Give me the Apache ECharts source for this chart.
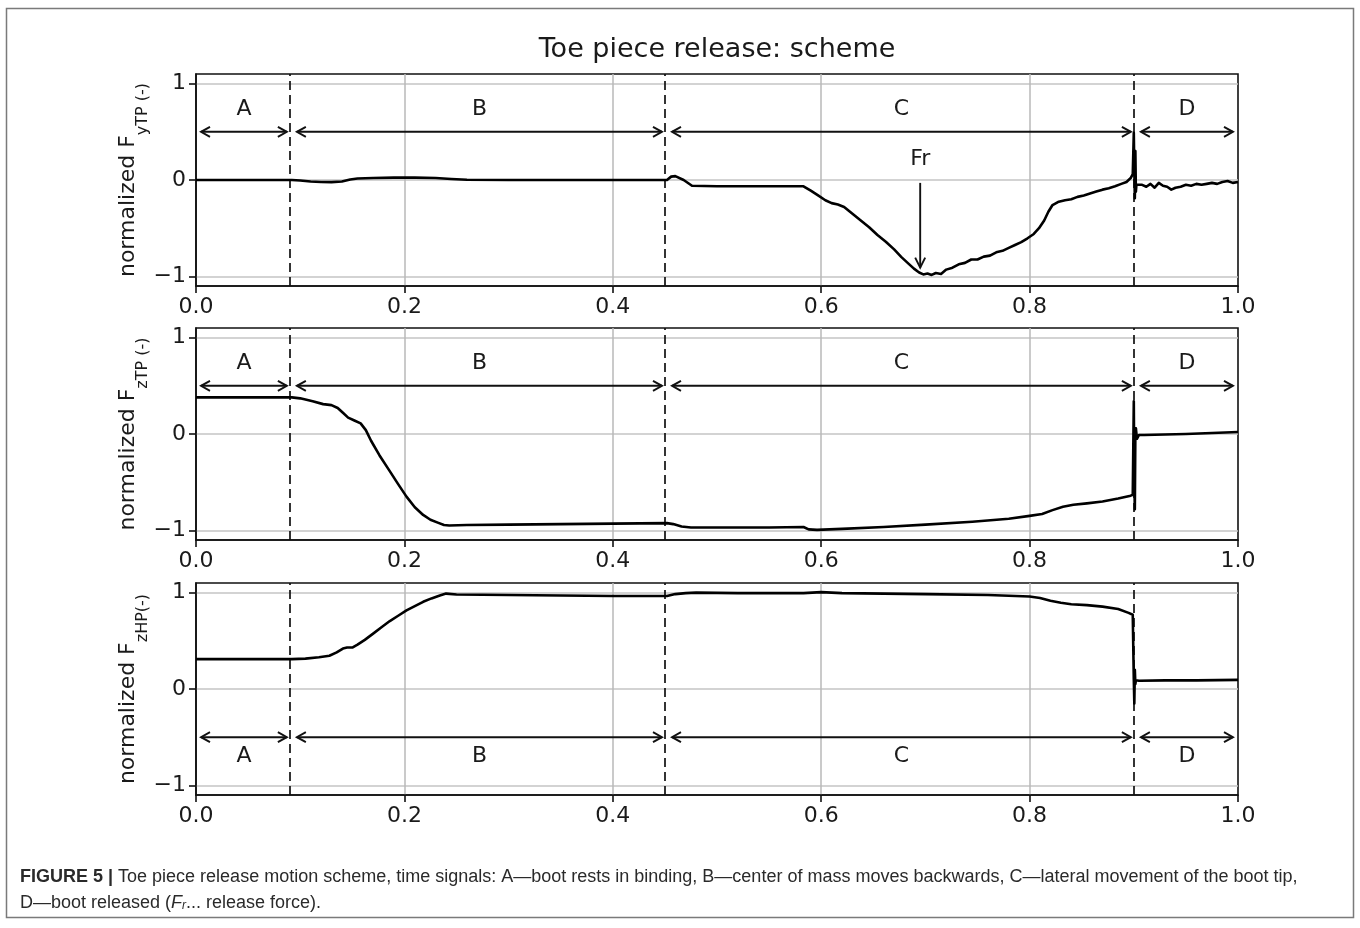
<!DOCTYPE html>
<html><head><meta charset="utf-8">
<script src="https://cdn.jsdelivr.net/npm/echarts@6/dist/echarts.min.js"></script>
<style>html,body{margin:0;padding:0;background:#fff}#c{width:1360px;height:928px}</style>
</head><body><div id="c"></div>
<script>
// ---------- data ----------
const yTicks = [-1, 0, 1];
const phaseBounds = [0, 0.092, 0.452, 0.902, 1.0];
const phaseLetters = ['A', 'B', 'C', 'D'];
const arrowLevels = [0.5, 0.5, -0.5];
const letterLevels = [0.73, 0.73, -0.7];
const frMark = [0.695, 0.21, -0.03, -0.91]; // x, text y, arrow start y, arrow tip y
const panelNames = [['normalized F', 'yTP (-)'], ['normalized F', 'zTP (-)'], ['normalized F', 'zHP(-)']];
const titleText = 'Toe piece release: scheme';

const fyT = [0,0.092,0.100,0.110,0.120,0.130,0.140,0.148,0.155,0.170,0.190,0.210,0.230,0.245,0.260,0.300,0.400,0.452,0.456,0.460,0.468,0.476,0.500,0.540,0.583,0.590,0.597,0.604,0.610,0.616,0.622,0.630,0.638,0.646,0.654,0.662,0.670,0.677,0.684,0.689,0.694,0.698,0.702,0.706,0.710,0.715,0.720,0.726,0.732,0.738,0.744,0.750,0.756,0.762,0.768,0.774,0.780,0.786,0.792,0.798,0.804,0.809,0.814,0.818,0.822,0.828,0.834,0.840,0.846,0.852,0.858,0.864,0.870,0.876,0.882,0.888,0.893,0.897,0.899,0.9000,0.9005,0.9010,0.9015,0.9020,0.9025,0.904,0.908,0.912,0.916,0.920,0.924,0.928,0.932,0.936,0.940,0.945,0.950,0.955,0.960,0.965,0.970,0.975,0.980,0.985,0.990,0.995,1.000];
const fyV = [0,0,-0.005,-0.015,-0.02,-0.022,-0.015,0.005,0.015,0.02,0.025,0.025,0.02,0.01,0.002,0,0,0,0.035,0.04,0.0,-0.06,-0.065,-0.065,-0.065,-0.11,-0.16,-0.21,-0.24,-0.255,-0.28,-0.35,-0.42,-0.49,-0.57,-0.64,-0.72,-0.80,-0.87,-0.92,-0.96,-0.98,-0.97,-0.985,-0.965,-0.975,-0.93,-0.91,-0.875,-0.86,-0.825,-0.825,-0.795,-0.785,-0.75,-0.735,-0.705,-0.675,-0.645,-0.605,-0.56,-0.5,-0.42,-0.33,-0.26,-0.225,-0.21,-0.2,-0.175,-0.16,-0.14,-0.12,-0.1,-0.085,-0.065,-0.04,-0.02,0.02,0.06,0.49,0.1,-0.19,0.3,-0.12,-0.05,-0.06,-0.05,-0.07,-0.04,-0.08,-0.03,-0.06,-0.07,-0.1,-0.08,-0.07,-0.05,-0.06,-0.04,-0.05,-0.04,-0.03,-0.04,-0.02,-0.01,-0.03,-0.02];

const fzT = [0,0.092,0.100,0.112,0.122,0.130,0.136,0.141,0.146,0.152,0.158,0.163,0.168,0.176,0.185,0.194,0.202,0.210,0.218,0.225,0.232,0.238,0.243,0.26,0.30,0.35,0.40,0.452,0.458,0.466,0.475,0.50,0.55,0.583,0.588,0.596,0.62,0.66,0.70,0.745,0.78,0.80,0.812,0.822,0.832,0.842,0.855,0.87,0.885,0.897,0.899,0.9000,0.9005,0.9010,0.9015,0.902,0.903,0.905,0.91,0.95,1.0];
const fzV = [0.38,0.38,0.37,0.34,0.31,0.30,0.27,0.22,0.17,0.14,0.11,0.04,-0.07,-0.22,-0.37,-0.52,-0.65,-0.76,-0.84,-0.89,-0.92,-0.945,-0.95,-0.945,-0.94,-0.935,-0.93,-0.925,-0.935,-0.96,-0.97,-0.97,-0.97,-0.965,-0.99,-0.995,-0.985,-0.965,-0.94,-0.91,-0.88,-0.85,-0.83,-0.79,-0.755,-0.735,-0.72,-0.70,-0.67,-0.64,-0.63,0.34,-0.5,-0.78,0.0,0.06,-0.05,-0.01,-0.01,0.0,0.02];

const hpT = [0,0.092,0.105,0.118,0.128,0.135,0.141,0.145,0.150,0.155,0.162,0.170,0.178,0.186,0.194,0.202,0.210,0.218,0.226,0.234,0.240,0.25,0.30,0.35,0.40,0.452,0.46,0.47,0.48,0.52,0.583,0.60,0.62,0.70,0.76,0.80,0.81,0.82,0.83,0.84,0.855,0.87,0.885,0.895,0.899,0.900,0.9005,0.901,0.9015,0.902,0.905,0.93,0.96,1.0];
const hpV = [0.31,0.31,0.315,0.33,0.345,0.38,0.42,0.43,0.43,0.46,0.51,0.575,0.64,0.705,0.76,0.815,0.86,0.905,0.94,0.97,0.99,0.98,0.975,0.97,0.965,0.965,0.985,0.995,1.0,0.995,0.995,1.005,0.995,0.985,0.975,0.96,0.945,0.915,0.895,0.88,0.87,0.855,0.83,0.79,0.77,0.1,-0.15,0.2,0.05,0.09,0.085,0.09,0.09,0.095];

const seriesT = [fyT, fzT, hpT];
const seriesV = [fyV, fzV, hpV];

// ---------- layout / style ----------
const FONT = '"DejaVu Sans", sans-serif';
const INK = '#111';
const TXT = '#1a1a1a';
const FS = 22;
const gridTops = [74, 328, 583];
const gridH = 212, gridL = 196, gridW = 1042;

const grids = [], xAxes = [], yAxes = [], series = [];

function renderPhase(params, api) {
  const x0 = api.value(0), x1 = api.value(1), y = api.value(2), ly = api.value(3);
  const p0 = api.coord([x0, y]), p1 = api.coord([x1, y]);
  const pl = api.coord([(x0 + x1) / 2, ly]);
  const a = p0[0] + 5, b = p1[0] - 5, yy = p0[1];
  const L = 9, W = 5;
  const st = { stroke: INK, lineWidth: 1.9, fill: null };
  return { type: 'group', children: [
    { type: 'line', shape: { x1: a, y1: yy, x2: b, y2: yy }, style: st },
    { type: 'polyline', shape: { points: [[a + L, yy - W], [a, yy], [a + L, yy + W]] }, style: st },
    { type: 'polyline', shape: { points: [[b - L, yy - W], [b, yy], [b - L, yy + W]] }, style: st },
    { type: 'text', style: { text: phaseLetters[params.dataIndex], x: pl[0], y: pl[1],
      textAlign: 'center', textVerticalAlign: 'middle', font: FS + 'px ' + FONT, fill: TXT } }
  ]};
}

function renderFr(params, api) {
  const x = api.value(0);
  const pt = api.coord([x, api.value(1)]);
  const ps = api.coord([x, api.value(2)]);
  const pe = api.coord([x, api.value(3)]);
  const st = { stroke: INK, lineWidth: 1.9, fill: null };
  return { type: 'group', children: [
    { type: 'text', style: { text: 'Fr', x: pt[0], y: pt[1], textAlign: 'center', textVerticalAlign: 'middle', font: FS + 'px ' + FONT, fill: TXT } },
    { type: 'line', shape: { x1: ps[0], y1: ps[1], x2: pe[0], y2: pe[1] }, style: st },
    { type: 'polyline', shape: { points: [[pe[0] - 5, pe[1] - 10], [pe[0], pe[1]], [pe[0] + 5, pe[1] - 10]] }, style: st }
  ]};
}

for (let i = 0; i < 3; i++) {
  grids.push({ left: gridL, top: gridTops[i], width: gridW, height: gridH, show: true,
    borderColor: INK, borderWidth: 1.6, backgroundColor: 'transparent', containLabel: false, outerBoundsMode: 'none' });
  xAxes.push({ type: 'value', gridIndex: i, min: 0, max: 1, interval: 0.2,
    axisLine: { show: true, onZero: false, lineStyle: { color: INK, width: 1.6 } },
    axisTick: { show: true, inside: false, length: 7, lineStyle: { color: INK, width: 1.6 } },
    axisLabel: { color: TXT, fontSize: FS, fontFamily: FONT, margin: 10, formatter: v => v.toFixed(1) },
    splitLine: { show: true, showMinLine: false, showMaxLine: false, lineStyle: { color: '#b8b8b8', width: 1.5 } } });
  const nm = panelNames[i];
  yAxes.push({ type: 'value', gridIndex: i, min: -1.1, max: 1.1,
    name: '{m|' + nm[0] + '}{s|' + nm[1] + '}', nameLocation: 'middle', nameRotate: 90, nameGap: 57,
    nameMoveOverlap: false,
    nameTextStyle: { rich: {
      m: { fontSize: FS, fontFamily: FONT, color: TXT, lineHeight: 22, verticalAlign: 'top' },
      s: { fontSize: 16, fontFamily: FONT, color: TXT, lineHeight: 16, verticalAlign: 'top', padding: [18, 0, 0, 0] } } },
    axisLine: { show: true, onZero: false, lineStyle: { color: INK, width: 1.6 } },
    axisTick: { show: true, inside: false, length: 7, customValues: yTicks, lineStyle: { color: INK, width: 1.6 } },
    axisLabel: { color: TXT, fontSize: FS, fontFamily: FONT, margin: 10, customValues: yTicks,
      formatter: v => (v < 0 ? '\u2212' + Math.abs(v) : String(v)) },
    splitLine: { show: true, lineStyle: { color: '#c4c4c4', width: 1.5 } } });

  const T = seriesT[i], V = seriesV[i];
  series.push({ type: 'line', xAxisIndex: i, yAxisIndex: i, data: T.map((t, k) => [t, V[k]]),
    showSymbol: false, symbol: 'none', sampling: null, animation: false, silent: true, z: 5,
    lineStyle: { color: '#000', width: 2.6, join: 'round' },
    markLine: { silent: true, symbol: 'none', animation: false, label: { show: false },
      lineStyle: { color: INK, type: [9, 5], width: 1.7 },
      data: phaseBounds.slice(1, 4).map(b => ({ xAxis: b })) } });
  series.push({ type: 'custom', xAxisIndex: i, yAxisIndex: i, clip: false, silent: true, animation: false, z: 6,
    data: phaseLetters.map((l, k) => [phaseBounds[k], phaseBounds[k + 1], arrowLevels[i], letterLevels[i]]),
    renderItem: renderPhase });
  if (i === 0) {
    series.push({ type: 'custom', xAxisIndex: 0, yAxisIndex: 0, clip: false, silent: true, animation: false, z: 6,
      data: [frMark], renderItem: renderFr });
  }
}

const CAP = 18;
const capStyle = (w, s) => ({ fontSize: s || CAP, fontFamily: '"Liberation Sans", Arial, sans-serif', fontWeight: w || 'normal', color: '#2a2a2a', fill: '#2a2a2a' });

const option = {
  animation: false,
  backgroundColor: '#fff',
  grid: grids, xAxis: xAxes, yAxis: yAxes, series: series,
  graphic: [
    { type: 'rect', silent: true, shape: { x: 6.5, y: 8.5, width: 1347, height: 909 }, style: { fill: null, stroke: '#7a7a7a', lineWidth: 1.5 } },
    { type: 'text', silent: true, x: gridL + gridW / 2, y: 50, style: { text: titleText, font: '27px ' + FONT, fill: TXT, textAlign: 'center', textVerticalAlign: 'middle' } },
    { type: 'text', silent: true, x: 20, y: 877, style: {
      text: '{b|FIGURE 5 |}{n| Toe piece release motion scheme, time signals: A\u2014boot rests in binding, B\u2014center of mass moves backwards, C\u2014lateral movement of the boot tip,}',
      textVerticalAlign: 'middle', rich: { b: capStyle('bold'), n: capStyle() } } },
    { type: 'text', silent: true, x: 20, y: 903, style: {
      text: '{n|D\u2014boot released (}{i|F}{s|r}{n|... release force).}',
      textVerticalAlign: 'middle', rich: { n: capStyle(), i: Object.assign(capStyle(), { fontStyle: 'italic' }),
        s: Object.assign(capStyle('normal', 12), { fontStyle: 'italic', verticalAlign: 'bottom', lineHeight: 12 }) } } }
  ]
};

const chart = echarts.init(document.getElementById('c'), null, { renderer: 'canvas' });
chart.setOption(option);
</script>
</body></html>
